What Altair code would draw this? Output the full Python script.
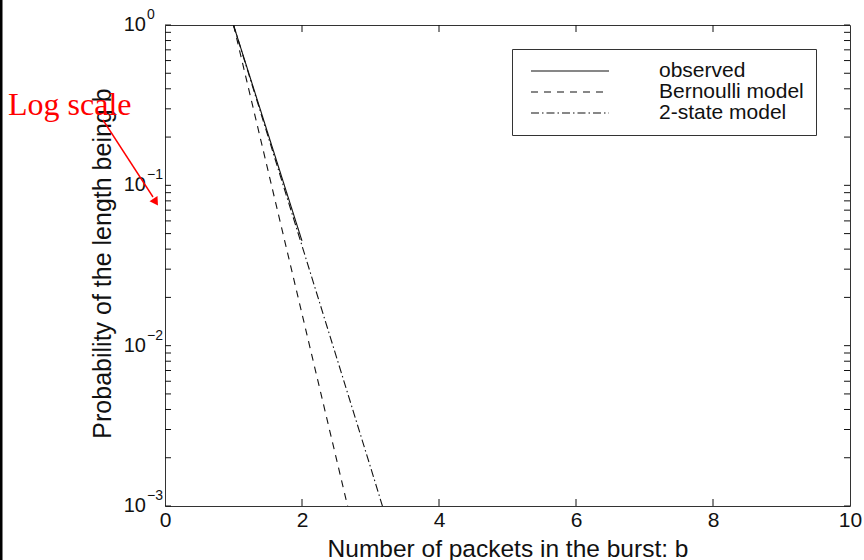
import altair as alt
import pandas as pd

# Burst-length distribution: b = packets in the burst, p = probability
obs_b = [1, 2]
obs_p = [1.0, 0.045]

bern_b = [1, 2, 3]
bern_p = [1.0, 0.0158, 0.00025]

two_b = [1, 2, 3, 4]
two_p = [1.0, 0.042, 0.00175, 0.00007]

series_names = ["observed", "Bernoulli model", "2-state model"]
series_dash = [[1, 0], [7, 6], [8, 3, 1.5, 3]]

x_ticks = [0, 2, 4, 6, 8, 10]
x_inner_ticks = [2, 4, 6, 8]
y_decades = [1.0, 0.1, 0.01, 0.001]
y_exponents = ["0", "\u22121", "\u22122", "\u22123"]
y_minor = [d * 10.0 ** e for e in (-3, -2, -1) for d in range(1, 10)] + [1.0]

INK = "#111111"
FONT = "Liberation Sans"
W, H = 685, 481

rows = []
for name, bs, ps in [(series_names[0], obs_b, obs_p),
                     (series_names[1], bern_b, bern_p),
                     (series_names[2], two_b, two_p)]:
    for b, p in zip(bs, ps):
        rows.append({"b": b, "p": p, "series": name})
df = pd.DataFrame(rows)

xscale = alt.Scale(domain=[0, 10], nice=False, zero=False)
yscale = alt.Scale(type="log", domain=[0.001, 1], nice=False)

xaxis = alt.Axis(
    values=x_ticks, format="d", labelFontSize=21, labelFont=FONT,
    labelColor=INK, labelPadding=3, labelFlush=False, labelOverlap=False,
    ticks=False, domain=False, grid=False,
    title="Number of packets in the burst: b", titleFontSize=24.5,
    titleFont=FONT, titleFontWeight="normal", titleColor=INK,
    titleY=50, titleBaseline="alphabetic")
yaxis = alt.Axis(
    labels=False, ticks=False, domain=False, grid=False,
    title="Probability of the length being b", titleFontSize=25,
    titleFont=FONT, titleFontWeight="normal", titleColor=INK,
    titleAngle=270, titleX=-55, titleY=238, titleAlign="center",
    titleBaseline="alphabetic")


def xq(field):
    return alt.X(field, type="quantitative", scale=xscale, axis=xaxis,
                 title="Number of packets in the burst: b")


def yq(field):
    return alt.Y(field, type="quantitative", scale=yscale, axis=yaxis,
                 title="Probability of the length being b")


lines = alt.Chart(df).mark_line(color=INK, strokeWidth=1.1, clip=True).encode(
    x=xq("b"),
    y=yq("p"),
    strokeDash=alt.StrokeDash("series:N", scale=alt.Scale(
        domain=series_names, range=series_dash), legend=alt.Legend(
        orient="none", legendX=347, legendY=24, title=None,
        symbolType="stroke", symbolSize=6084, symbolStrokeWidth=1.1,
        symbolStrokeColor=INK, clipHeight=20, rowPadding=0,
        labelOffset=49, labelFontSize=21, labelFont=FONT, labelColor=INK,
        padding=12, symbolOffset=6, strokeColor="#333333",
        fillColor="white")),
    order="b:Q",
)

# Inward-pointing tick marks on all four sides of the box
ydf = pd.DataFrame({"v": y_minor})
xdf = pd.DataFrame({"v": x_inner_ticks})
tick_left = alt.Chart(ydf).mark_rule(color=INK, strokeWidth=1).encode(
    y=yq("v"), x=alt.value(0), x2=alt.value(6))
tick_right = alt.Chart(ydf).mark_rule(color=INK, strokeWidth=1).encode(
    y=yq("v"), x=alt.value(W), x2=alt.value(W - 6))
tick_bottom = alt.Chart(xdf).mark_rule(color=INK, strokeWidth=1).encode(
    x=xq("v"), y=alt.value(H), y2=alt.value(H - 7))
tick_top = alt.Chart(xdf).mark_rule(color=INK, strokeWidth=1).encode(
    x=xq("v"), y=alt.value(0), y2=alt.value(7))

# Power-of-ten labels: "10" with a raised exponent
ldf = pd.DataFrame({"v": y_decades, "e": y_exponents})
base_lbl = alt.Chart(ldf).mark_text(
    text="10", align="right", baseline="middle", fontSize=20, font=FONT,
    color=INK).encode(y=yq("v"), x=alt.value(-19))
exp_lbl = alt.Chart(ldf).mark_text(
    align="left", baseline="middle", fontSize=14, font=FONT, color=INK,
    dy=-10).encode(y=yq("v"), x=alt.value(-18), text="e:N")

one = pd.DataFrame({"k": [0]})
note = alt.Chart(one).mark_text(
    text="Log scale", font="Liberation Serif", fontSize=32, color="red",
    align="left", baseline="alphabetic").encode(x=alt.value(-157), y=alt.value(90))
arrow_shaft = alt.Chart(one).mark_rule(color="red", strokeWidth=1.4).encode(
    x=alt.value(-62), y=alt.value(95), x2=alt.value(-12), y2=alt.value(172))
arrow_head = alt.Chart(one).mark_point(
    shape="triangle", filled=True, size=90, angle=147, color="red",
    opacity=1).encode(x=alt.value(-10), y=alt.value(176))
edge = alt.Chart(one).mark_rule(color="black", strokeWidth=3).encode(
    x=alt.value(-164), y=alt.value(-25), y2=alt.value(H + 54))

chart = alt.layer(
    lines, tick_left, tick_right, tick_bottom, tick_top,
    base_lbl, exp_lbl, note, arrow_shaft, arrow_head, edge,
).properties(
    width=W, height=H,
    padding={"left": 165, "top": 25, "right": 14, "bottom": 54},
    autosize=alt.AutoSizeParams(type="none"),
    background="white",
).configure_view(stroke="#333333", strokeWidth=1)

chart.save("out.html", embed_options={"renderer": "svg", "actions": False})
